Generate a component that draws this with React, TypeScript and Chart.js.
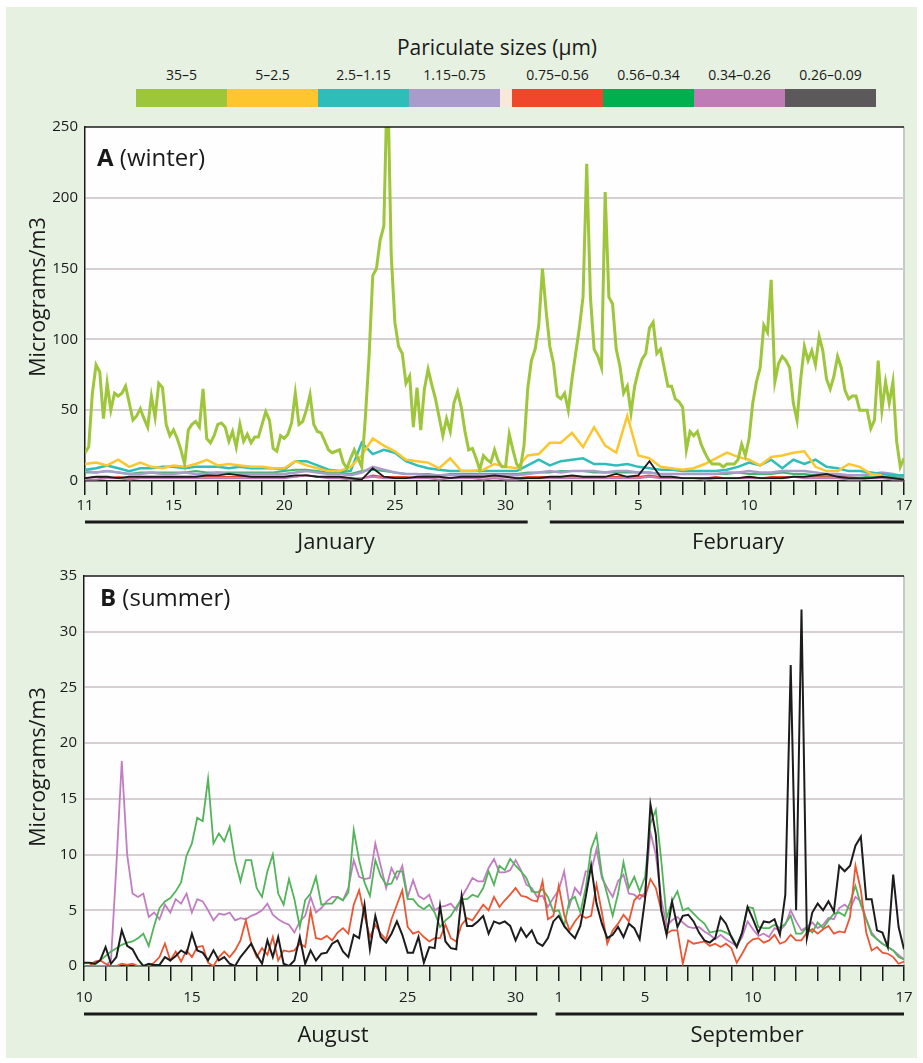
import React, { useEffect, useRef } from 'react';
import { Chart, registerables } from 'chart.js';

Chart.register(...registerables);

const FONT = "'Open Sans', 'DejaVu Sans', sans-serif";
const INK = '#1a1a1a';

// ---------- legend ----------
const sizeLabels = ['35–5', '5–2.5', '2.5–1.15', '1.15–0.75', '0.75–0.56', '0.56–0.34', '0.34–0.26', '0.26–0.09'];
const sizeColors = ['#9dc63b', '#fdc62f', '#2ebdb8', '#a99bcc', '#ef462c', '#00b04f', '#be7bb5', '#5b595a'];

// ---------- winter (A) ----------
const winterTickLabels = ['11', '', '', '', '15', '', '', '', '', '20', '', '', '', '', '25', '', '', '', '', '30', '', '1', '', '', '', '5', '', '', '', '', '10', '', '', '', '', '', '', '17'];
const winterMonths = ['January', 'February'];
const winterMonthSpans = [[0, 20], [21, 37]];

// 35–5 µm, 6 readings per day
const w35_5 = [
  20, 24, 62, 82, 77, 44, 69, 50, 62, 60,
  62, 67, 55, 43, 46, 51, 44, 38, 60, 45,
  69, 66, 40, 32, 36, 30, 22, 12, 36, 40,
  42, 38, 65, 30, 27, 32, 40, 41, 38, 28,
  35, 24, 40, 28, 33, 27, 31, 31, 40, 49,
  43, 23, 21, 32, 30, 33, 41, 62, 40, 42,
  50, 61, 40, 35, 34, 28, 22, 20, 21, 22,
  13, 9, 16, 22, 16, 10, 45, 88, 145, 150,
  170, 180, 290, 160, 112, 95, 90, 69, 74, 38,
  66, 36, 65, 79, 68, 58, 45, 32, 44, 35,
  55, 63, 52, 35, 22, 23, 16, 8, 18, 15,
  13, 22, 14, 10, 10, 33, 22, 12, 9, 25,
  65, 85, 93, 110, 150, 120, 95, 83, 60, 58,
  62, 50, 72, 90, 108, 130, 224, 130, 93, 88,
  80, 204, 130, 125, 93, 81, 62, 67, 48, 67,
  78, 86, 90, 108, 112, 90, 93, 80, 67, 67,
  58, 56, 52, 22, 35, 32, 35, 26, 20, 15,
  12, 12, 12, 10, 12, 12, 12, 15, 26, 18,
  30, 55, 70, 80, 110, 105, 142, 70, 83, 88,
  85, 80, 55, 43, 72, 95, 85, 92, 82, 102,
  92, 72, 65, 74, 88, 80, 64, 58, 60, 60,
  50, 50, 50, 37, 43, 85, 50, 70, 55, 70,
  28, 10, 16,
];

// finer fractions, 2 readings per day
const w5_2_5 = [
  12, 13, 11, 15, 10, 13, 10, 9, 11, 10,
  12, 15, 11, 12, 11, 10, 10, 9, 9, 14,
  11, 9, 7, 7, 10, 18, 30, 25, 21, 15,
  14, 13, 9, 16, 7, 7, 8, 12,
  10, 9, 18, 19, 27, 27, 34, 24, 38, 25,
  20, 46, 18, 16, 10, 9, 8, 9, 12, 16,
  20, 17, 15, 11, 17, 18, 20, 21, 10, 7,
  7, 12, 10, 5, 4,
];
const w2_5_1_15 = [
  8, 9, 11, 9, 7, 9, 9, 10, 10, 9,
  10, 10, 10, 9, 10, 9, 9, 9, 8, 14,
  14, 11, 8, 7, 7, 27, 19, 22, 20, 14,
  11, 9, 8, 7, 7, 7, 7, 7,
  7, 7, 11, 15, 11, 14, 15, 16, 12, 12,
  11, 12, 10, 9, 8, 8, 7, 7, 7, 7,
  8, 10, 13, 11, 15, 9, 15, 12, 15, 10,
  9, 7, 7, 6, 5, 4, 4,
];
const w1_15_0_75 = [
  7, 6, 7, 6, 5, 5, 6, 5, 5, 6,
  5, 5, 6, 5, 5, 5, 5, 5, 5, 6,
  7, 6, 5, 5, 4, 6, 10, 8, 6, 5,
  5, 4, 4, 4, 4, 4, 4, 4,
  4, 4, 5, 6, 7, 6, 7, 7, 7, 6,
  7, 7, 6, 6, 5, 5, 5, 5, 5, 5,
  6, 6, 7, 6, 6, 7, 7, 7, 6, 5,
  5, 4, 4, 5, 6, 5, 3,
];
const w0_75_0_56 = [
  2, 3, 2, 3, 2, 2, 3, 3, 2, 3,
  3, 3, 3, 3, 3, 3, 2, 3, 3, 3,
  4, 3, 3, 3, 2, 2, 4, 3, 3, 3,
  2, 3, 3, 2, 2, 3, 3, 3,
  3, 2, 3, 3, 3, 3, 3, 3, 3, 3,
  3, 3, 3, 4, 3, 3, 2, 2, 2, 3,
  2, 2, 3, 2, 3, 3, 3, 3, 3, 3,
  3, 3, 2, 2, 2, 2, 2,
];
const w0_56_0_34 = [
  6, 6, 7, 6, 5, 6, 6, 6, 6, 6,
  7, 6, 6, 6, 6, 6, 6, 6, 7, 8,
  8, 7, 6, 6, 5, 7, 8, 7, 6, 5,
  5, 5, 4, 5, 5, 5, 5, 5,
  5, 5, 6, 6, 6, 7, 7, 7, 6, 6,
  6, 6, 6, 6, 5, 5, 5, 5, 5, 5,
  5, 6, 5, 5, 5, 6, 5, 5, 4, 4,
  4, 4, 4, 3, 3, 3, 2,
];
const w0_34_0_26 = [
  1, 1, 2, 2, 1, 2, 2, 2, 2, 2,
  2, 2, 2, 2, 2, 2, 2, 2, 2, 3,
  4, 3, 2, 2, 1, 2, 3, 2, 2, 2,
  2, 2, 1, 2, 2, 2, 1, 2,
  1, 1, 2, 2, 2, 2, 2, 2, 2, 2,
  2, 2, 2, 3, 2, 2, 2, 2, 1, 2,
  2, 2, 2, 2, 2, 2, 3, 2, 2, 2,
  2, 1, 1, 2, 2, 1, 1,
];
const w0_26_0_09 = [
  2, 3, 3, 2, 3, 3, 3, 3, 3, 3,
  3, 4, 4, 5, 4, 3, 3, 3, 3, 4,
  4, 3, 3, 3, 2, 1, 9, 3, 2, 2,
  3, 3, 3, 2, 3, 3, 3, 4,
  3, 2, 2, 2, 3, 3, 4, 3, 3, 3,
  5, 3, 4, 14, 3, 3, 2, 2, 2, 2,
  2, 2, 3, 2, 2, 2, 3, 3, 4, 5,
  3, 2, 2, 2, 3, 2, 1,
];

// ---------- summer (B) ----------
const summerTickLabels = ['10', '', '', '', '', '15', '', '', '', '', '20', '', '', '', '', '25', '', '', '', '', '30', '', '1', '', '', '', '5', '', '', '', '', '10', '', '', '', '', '', '', '17'];
const summerMonths = ['August', 'September'];
const summerMonthSpans = [[0, 21], [21.85, 38]];

// 4 readings per day
const s0_56_0_34 = [
  0, 0, 0.1, 0.5, 0.9, 1.3, 1.6, 1.9, 2.1, 2.2,
  2.5, 2.9, 1.8, 3.6, 5.2, 5.8, 6.1, 6.7, 7.5, 9.9,
  11.0, 13.3, 13.0, 16.8, 11.0, 11.9, 11.2, 12.5, 9.5, 7.6,
  9.5, 9.5, 7.0, 6.2, 8.5, 10.0, 6.5, 5.5, 7.8, 6.0,
  3.5, 5.9, 6.5, 8.0, 5.5, 5.6, 5.6, 6.2, 5.9, 6.6,
  12.2, 9.5, 7.5, 6.3, 9.5, 8.1, 7.3, 7.4, 8.5, 8.5,
  6.0, 6.0, 5.4, 5.1, 5.5, 4.8, 3.5, 4.1, 4.5, 5.3,
  6.0, 6.0, 6.4, 6.2, 7.0, 8.5, 7.3, 9.0, 8.6, 9.6,
  9.0, 8.5, 7.9, 6.7, 6.6, 6.9, 6.2, 4.9, 5.0, 3.6,
  5.9, 6.2, 4.8, 7.0, 10.5, 11.8, 8.2, 6.4, 4.5, 6.5,
  9.3, 7.0, 8.0, 6.7, 8.0, 12.8, 14.0, 9.5, 4.3, 5.8,
  6.7, 5.0, 5.2, 4.7, 4.2, 3.8, 3.0, 3.1, 3.2, 3.0,
  2.7, 1.8, 3.0, 5.3, 5.2, 3.5, 3.4, 3.4, 3.7, 3.4,
  3.8, 4.5, 2.9, 2.9, 3.5, 3.0, 3.9, 3.4, 4.1, 4.7,
  4.8, 4.5, 5.7, 7.2, 5.5, 4.2, 2.8, 2.4, 2.0, 1.7,
  1.4, 0.8, 0.6,
];
const s0_34_0_26 = [
  0, 0, 0, 0, 0, 0.5, 9.0, 18.4, 10.0, 6.5,
  6.2, 6.5, 4.4, 4.8, 4.2, 5.5, 4.8, 6.0, 5.6, 6.5,
  4.8, 6.0, 5.8, 5.0, 4.1, 4.7, 4.6, 4.8, 4.1, 4.3,
  4.2, 4.5, 4.7, 5.0, 5.6, 4.6, 4.2, 3.9, 3.7, 3.0,
  4.0, 4.5, 6.2, 4.8, 5.2, 5.8, 6.2, 6.2, 5.9, 7.0,
  9.5, 8.0, 7.8, 7.9, 11.0, 9.0, 7.0, 8.8, 7.8, 9.0,
  6.2, 7.7, 6.3, 6.0, 6.4, 5.0, 5.3, 5.4, 5.6, 5.0,
  6.2, 7.0, 7.9, 7.6, 7.6, 8.8, 9.6, 8.4, 8.4, 8.6,
  9.5, 8.6, 7.3, 7.0, 6.2, 6.3, 5.3, 6.1, 6.8, 8.5,
  5.4, 7.0, 6.4, 8.5, 8.5, 10.5, 7.9, 7.0, 6.2, 7.6,
  8.2, 6.5, 6.4, 6.0, 6.6, 12.0, 10.0, 6.0, 3.6, 4.1,
  4.4, 3.9, 3.5, 3.4, 3.5, 3.1, 2.8, 2.4, 2.8, 2.4,
  2.1, 1.8, 2.6, 4.0, 3.3, 2.7, 2.9, 2.6, 3.4, 3.2,
  3.7, 5.0, 4.0, 3.2, 3.5, 3.9, 3.4, 3.7, 4.3, 4.2,
  5.2, 5.5, 5.1, 6.2, 5.8, 4.2, 3.0, 2.4, 2.0, 1.7,
  1.4, 1.0, 0.6,
];
const s0_75_0_56 = [
  0, 0, 0.4, 0.5, 0.2, 0, 0, 0.2, 0.1, 0.2,
  0, 0, 0, 0.3, 0.8, 2.0, 0.5, 1.3, 0.4, 1.4,
  0.8, 1.7, 1.8, 0.3, 0, 0.8, 1.3, 0.8, 1.4, 2.3,
  4.1, 2.0, 0.8, 1.6, 1.0, 2.6, 0.5, 1.4, 1.3, 1.4,
  2.0, 1.7, 5.0, 2.5, 2.4, 2.7, 2.3, 3.0, 3.4, 2.9,
  5.5, 6.8, 4.5, 2.6, 3.7, 2.9, 2.4, 4.2, 5.5, 6.8,
  3.5, 2.9, 3.1, 2.6, 2.2, 2.5, 2.5, 3.7, 2.5, 2.2,
  3.7, 4.3, 4.1, 4.8, 5.5, 5.0, 6.2, 5.3, 5.9, 6.4,
  7.0, 6.3, 6.2, 5.9, 5.8, 7.6, 4.2, 4.5, 7.2, 4.6,
  3.2, 4.0, 4.6, 4.3, 4.5, 7.3, 4.8, 2.0, 3.2, 3.8,
  4.6, 4.0, 5.9, 6.4, 6.2, 7.8, 7.0, 5.0, 2.9, 3.2,
  3.2, 0.2, 2.3, 2.0, 2.1, 2.2, 1.8, 2.0, 1.7, 2.0,
  1.6, 0.3, 1.1, 2.0, 2.4, 2.5, 2.1, 2.3, 2.8, 2.0,
  2.2, 2.8, 2.3, 2.3, 3.0, 3.3, 2.9, 3.3, 3.6, 2.9,
  3.1, 3.0, 4.4, 9.0, 6.8, 3.0, 1.4, 1.7, 1.2, 1.1,
  0.8, 0.2, 0.4,
];
const s0_26_0_09 = [
  0.3, 0.3, 0.2, 0.5, 1.7, 0.2, 0.8, 3.2, 1.8, 1.5,
  0.6, 0, 0.2, 0.1, 0.1, 0.8, 0.5, 0.9, 1.4, 1.1,
  2.9, 1.4, 1.2, 0.5, 1.4, 0.5, 0.8, 0.2, 0, 0.8,
  1.4, 2.0, 1.0, 0.2, 2.3, 0.8, 2.6, 0.2, 0, 0.5,
  2.6, 0.2, 1.4, 0.5, 1.1, 1.2, 2.0, 2.3, 1.3, 0.8,
  2.8, 2.5, 5.5, 1.5, 4.5, 2.6, 2.1, 2.9, 4.0, 2.8,
  1.2, 1.2, 2.6, 0.3, 1.7, 1.6, 5.4, 2.2, 1.6, 1.5,
  6.3, 3.6, 3.6, 4.0, 4.5, 2.9, 4.0, 3.8, 4.0, 3.6,
  2.3, 3.4, 2.6, 3.2, 2.1, 1.8, 2.5, 4.0, 4.5, 3.6,
  3.0, 2.5, 3.6, 6.2, 9.0, 5.6, 3.8, 2.5, 2.8, 3.5,
  2.6, 3.8, 3.4, 2.4, 6.0, 14.5, 11.8, 5.0, 2.8, 5.8,
  3.5, 4.5, 4.6, 4.0, 3.0, 2.3, 2.1, 2.5, 4.4, 3.8,
  2.6, 1.7, 3.0, 5.3, 4.2, 3.0, 4.0, 3.9, 4.2, 2.8,
  6.4, 27.0, 5.0, 32.0, 2.5, 4.8, 5.6, 5.0, 5.8, 4.9,
  9.0, 8.5, 9.0, 10.8, 11.6, 6.0, 6.0, 3.2, 3.0, 1.7,
  8.2, 3.5, 1.5,
];

// ---------- helpers ----------
const toPoints = (vals: number[], perDay: number) => vals.map((v, i) => ({ x: i / perDay, y: v }));

const line = (label: string, vals: number[], perDay: number, color: string, width: number, order: number) => ({
  label,
  data: toPoints(vals, perDay),
  borderColor: color,
  borderWidth: width,
  pointRadius: 0,
  tension: 0,
  fill: false,
  order,
});

const framePlugin = {
  id: 'frame',
  beforeDraw(chart: any) {
    const { ctx, chartArea: a } = chart;
    ctx.save();
    ctx.fillStyle = '#fefefe';
    ctx.fillRect(a.left, a.top, a.right - a.left, a.bottom - a.top);
    ctx.strokeStyle = '#c8c8c8';
    ctx.lineWidth = 2;
    ctx.beginPath();
    ctx.moveTo(a.right, a.top);
    ctx.lineTo(a.right, a.bottom);
    ctx.stroke();
    ctx.restore();
  },
  afterDraw(chart: any, _args: any, opts: any) {
    const { ctx, chartArea: a, scales } = chart;
    ctx.save();
    ctx.strokeStyle = INK;
    ctx.lineWidth = 1.5;
    ctx.beginPath();
    ctx.moveTo(a.left, a.top);
    ctx.lineTo(a.right, a.top);
    ctx.stroke();
    ctx.lineWidth = 3;
    const y = a.bottom + opts.barOffset;
    (opts.spans || []).forEach((s: number[]) => {
      ctx.beginPath();
      ctx.moveTo(scales.x.getPixelForValue(s[0]), y);
      ctx.lineTo(scales.x.getPixelForValue(s[1]), y);
      ctx.stroke();
    });
    ctx.restore();
  },
};

function makeOptions(cfg: {
  xMax: number; yMax: number; yStep: number; labels: string[]; padTop: number; xHeight: number; yWidth: number;
  tickPad: number; tickLen: number; spans: number[][]; barOffset: number;
}) {
  return {
    responsive: false,
    animation: false,
    events: [],
    layout: { padding: { left: 0, right: 19, top: cfg.padTop, bottom: 0 } },
    plugins: {
      legend: { display: false },
      tooltip: { enabled: false },
      frame: { spans: cfg.spans, barOffset: cfg.barOffset },
    },
    scales: {
      x: {
        type: 'linear',
        min: 0,
        max: cfg.xMax,
        afterFit: (s: any) => { s.height = cfg.xHeight; },
        ticks: {
          stepSize: 1,
          autoSkip: false,
          maxRotation: 0,
          padding: cfg.tickPad,
          color: INK,
          font: { family: FONT, size: 15 },
          callback: (v: number) => cfg.labels[Math.round(v)] ?? '',
        },
        grid: { drawOnChartArea: false, drawTicks: true, tickLength: cfg.tickLen, color: INK, lineWidth: 1.5 },
        border: { display: true, color: INK, width: 1.5 },
      },
      y: {
        min: 0,
        max: cfg.yMax,
        afterFit: (s: any) => { s.width = cfg.yWidth; },
        ticks: { stepSize: cfg.yStep, padding: 7, color: INK, font: { family: FONT, size: 15 } },
        grid: {
          drawTicks: false,
          lineWidth: 2,
          color: (c: any) => (c.tick && (c.tick.value === 0 || c.tick.value === cfg.yMax) ? 'rgba(0,0,0,0)' : '#d6cfd3'),
        },
        border: { display: true, color: INK, width: 1.5 },
      },
    },
  };
}

function WinterChart() {
  const ref = useRef<HTMLCanvasElement | null>(null);
  useEffect(() => {
    if (!ref.current) return;
    const chart = new Chart(ref.current, {
      type: 'line',
      data: {
        datasets: [
          line(sizeLabels[7], w0_26_0_09, 2, '#1c1c1c', 1.8, 0),
          line(sizeLabels[0], w35_5, 6, sizeColors[0], 3, 1),
          line(sizeLabels[1], w5_2_5, 2, sizeColors[1], 2.5, 2),
          line(sizeLabels[2], w2_5_1_15, 2, sizeColors[2], 2.5, 3),
          line(sizeLabels[3], w1_15_0_75, 2, sizeColors[3], 2.5, 4),
          line(sizeLabels[5], w0_56_0_34, 2, '#3fb86a', 2, 5),
          line(sizeLabels[6], w0_34_0_26, 2, sizeColors[6], 2, 6),
          line(sizeLabels[4], w0_75_0_56, 2, sizeColors[4], 1.5, 7),
        ],
      },
      options: makeOptions({
        xMax: 37, yMax: 250, yStep: 50, labels: winterTickLabels, padTop: 17, xHeight: 54, yWidth: 85,
        tickPad: 2, tickLen: 14, spans: winterMonthSpans, barOffset: 41,
      }) as any,
      plugins: [framePlugin],
    });
    return () => chart.destroy();
  }, []);
  return <canvas ref={ref} width={923} height={425} style={{ position: 'absolute', left: 0, top: 110 }} />;
}

function SummerChart() {
  const ref = useRef<HTMLCanvasElement | null>(null);
  useEffect(() => {
    if (!ref.current) return;
    const chart = new Chart(ref.current, {
      type: 'line',
      data: {
        datasets: [
          line(sizeLabels[7], s0_26_0_09, 4, '#1c1c1c', 2, 0),
          line(sizeLabels[4], s0_75_0_56, 4, '#ea5634', 1.8, 1),
          line(sizeLabels[5], s0_56_0_34, 4, '#52b45a', 1.8, 2),
          line(sizeLabels[6], s0_34_0_26, 4, '#c27dc2', 1.8, 3),
        ],
      },
      options: makeOptions({
        xMax: 38, yMax: 35, yStep: 5, labels: summerTickLabels, padTop: 12, xHeight: 64, yWidth: 84,
        tickPad: 8, tickLen: 15, spans: summerMonthSpans, barOffset: 48,
      }) as any,
      plugins: [framePlugin],
    });
    return () => chart.destroy();
  }, []);
  return <canvas ref={ref} width={923} height={470} style={{ position: 'absolute', left: 0, top: 560 }} />;
}

const abs = (extra: React.CSSProperties): React.CSSProperties => ({ position: 'absolute', fontFamily: FONT, color: INK, whiteSpace: 'nowrap', ...extra });

export default function App() {
  const segLefts = [136, 227, 318, 409, 512, 603, 694, 785];
  return (
    <div style={{ position: 'absolute', left: 0, top: 0, width: 923, height: 1063, background: '#ffffff', overflow: 'hidden' }}>
      <div style={{ position: 'absolute', left: 6, top: 7, width: 911, height: 1051, background: '#e6f1e1' }} />

      {/* legend */}
      <div style={abs({ left: 297, top: 35, width: 400, textAlign: 'center', fontSize: 21, lineHeight: '24px' })}>Pariculate sizes (µm)</div>
      {sizeLabels.map((l, i) => (
        <div key={l} style={abs({ left: segLefts[i] - 20, top: 65, width: 131, textAlign: 'center', fontSize: 14, lineHeight: '20px' })}>{l}</div>
      ))}
      {sizeColors.map((c, i) => (
        <div key={c} style={{ position: 'absolute', left: segLefts[i], top: 89, width: 91, height: 18, background: c }} />
      ))}
      <div style={{ position: 'absolute', left: 500, top: 89, width: 12, height: 18, background: '#f8e8da' }} />

      <WinterChart />
      <SummerChart />

      {/* axis titles and panel labels */}
      <div style={abs({ left: 37 - 100, top: 297 - 13, width: 200, height: 26, lineHeight: '26px', textAlign: 'center', fontSize: 21.5, transform: 'rotate(-90deg)' })}>Micrograms/m3</div>
      <div style={abs({ left: 37 - 100, top: 767 - 13, width: 200, height: 26, lineHeight: '26px', textAlign: 'center', fontSize: 21.5, transform: 'rotate(-90deg)' })}>Micrograms/m3</div>
      <div style={abs({ left: 97, top: 143, fontSize: 24, lineHeight: '28px' })}><b>A</b> (winter)</div>
      <div style={abs({ left: 100, top: 583, fontSize: 24, lineHeight: '28px' })}><b>B</b> (summer)</div>

      {/* month labels */}
      <div style={abs({ left: 336 - 100, top: 527, width: 200, textAlign: 'center', fontSize: 22, lineHeight: '26px' })}>{winterMonths[0]}</div>
      <div style={abs({ left: 738 - 100, top: 527, width: 200, textAlign: 'center', fontSize: 22, lineHeight: '26px' })}>{winterMonths[1]}</div>
      <div style={abs({ left: 333 - 100, top: 1020, width: 200, textAlign: 'center', fontSize: 22, lineHeight: '26px' })}>{summerMonths[0]}</div>
      <div style={abs({ left: 747 - 100, top: 1020, width: 200, textAlign: 'center', fontSize: 22, lineHeight: '26px' })}>{summerMonths[1]}</div>
    </div>
  );
}
